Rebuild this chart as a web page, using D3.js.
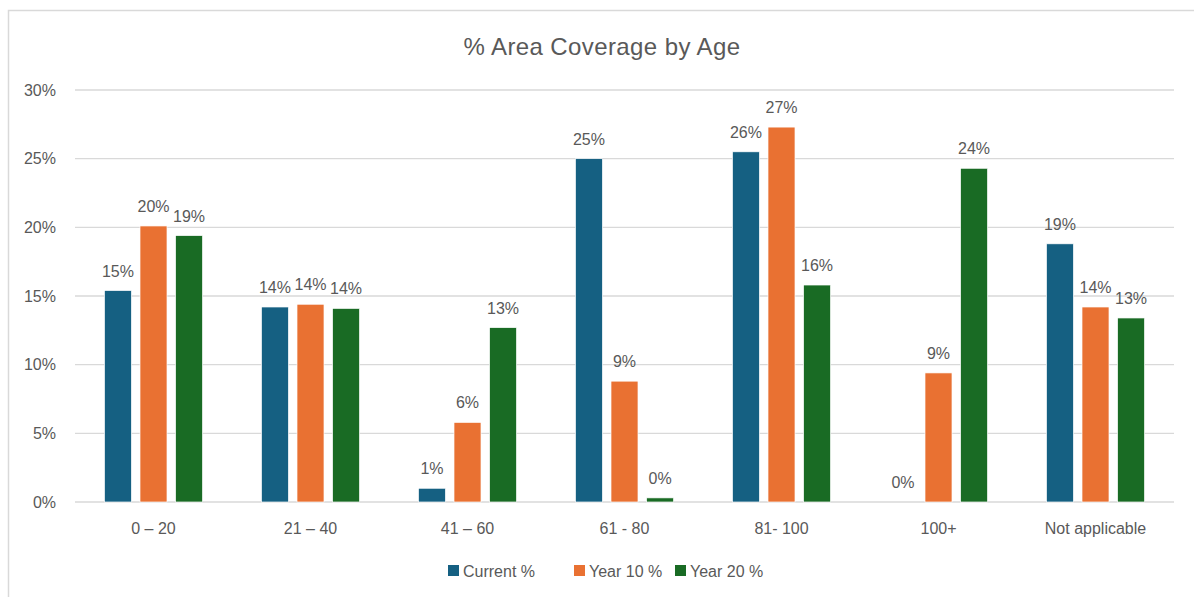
<!DOCTYPE html>
<html>
<head>
<meta charset="utf-8">
<script src="https://cdn.jsdelivr.net/npm/d3@7"></script>
<style>
  body { margin: 0; background: #fff; }
  text { font-family: "Liberation Sans", Arial, sans-serif; fill: #595959; }
</style>
</head>
<body>
<div id="chart"></div>
<script>
// chart data
var categories = ["0 \u2013 20", "21 \u2013 40", "41 \u2013 60", "61 - 80", "81- 100", "100+", "Not applicable"];
var seriesNames = ["Current %", "Year 10 %", "Year 20 %"];
var currentPct = [15.4, 14.2, 1.0, 25.0, 25.5, 0.0, 18.8];
var year10Pct = [20.1, 14.4, 5.8, 8.8, 27.3, 9.4, 14.2];
var year20Pct = [19.4, 14.1, 12.7, 0.3, 15.8, 24.3, 13.4];
var yTicks = [0, 5, 10, 15, 20, 25, 30];
var colors = ["#156082", "#E97132", "#196B24"];

var svgWidth = 1194;
var svgHeight = 597;

// plot area
var margin = { top: 90, right: 20, bottom: 95, left: 75 };
var chartWidth = 1174 - margin.left;
var chartHeight = 502 - margin.top;

var svg = d3.select("#chart")
    .append("svg")
    .attr("width", svgWidth)
    .attr("height", svgHeight);

// outer border of the chart box
svg.append("path")
    .attr("d", "M8.5,600 L8.5,10.5 L1194,10.5")
    .attr("fill", "none")
    .attr("stroke", "#d9d9d9")
    .attr("stroke-width", 1.5);

svg.append("text")
    .attr("x", 602)
    .attr("y", 55)
    .attr("text-anchor", "middle")
    .style("font-size", "24px")
    .style("letter-spacing", "0.4px")
    .text("% Area Coverage by Age");

var chartGroup = svg.append("g")
    .attr("transform", `translate(${margin.left}, ${margin.top})`);

var x0 = d3.scaleBand()
    .domain(categories)
    .range([0, chartWidth])
    .paddingInner(0.375)
    .paddingOuter(0.1875);

var x1 = d3.scaleBand()
    .domain(seriesNames)
    .range([0, x0.bandwidth()])
    .paddingInner(0.24);

var y = d3.scaleLinear()
    .domain([0, 30])
    .range([chartHeight, 0]);

// gridlines
chartGroup.append("g")
    .selectAll("line")
    .data(yTicks)
    .enter()
    .append("line")
    .attr("x1", 0)
    .attr("x2", chartWidth)
    .attr("y1", d => y(d))
    .attr("y2", d => y(d))
    .attr("stroke", "#d9d9d9")
    .attr("stroke-width", 1.3);

// y axis labels
var leftAxis = d3.axisLeft(y)
    .tickValues(yTicks)
    .tickFormat(d => d + "%")
    .tickSize(0)
    .tickPadding(19);

var yAxis = chartGroup.append("g").call(leftAxis);
yAxis.select(".domain").remove();
yAxis.selectAll("text")
    .style("font-size", "16px")
    .style("fill", "#595959")
    .style("font-family", "Liberation Sans, Arial, sans-serif");

// x axis labels
var bottomAxis = d3.axisBottom(x0).tickSize(0).tickPadding(21);
var xAxis = chartGroup.append("g")
    .attr("transform", `translate(0, ${chartHeight})`)
    .call(bottomAxis);
xAxis.select(".domain").remove();
xAxis.selectAll("text")
    .style("font-size", "16px")
    .style("fill", "#595959")
    .style("font-family", "Liberation Sans, Arial, sans-serif");

var rows = categories.map(function(c, i) {
    return {
        category: c,
        values: [currentPct[i], year10Pct[i], year20Pct[i]]
    };
});

var groups = chartGroup.selectAll(".group")
    .data(rows)
    .enter()
    .append("g")
    .attr("class", "group")
    .attr("transform", d => `translate(${x0(d.category)}, 0)`);

groups.selectAll("rect")
    .data(d => d.values.map((v, j) => ({ name: seriesNames[j], value: v, idx: j })))
    .enter()
    .append("rect")
    .attr("x", d => x1(d.name))
    .attr("y", d => y(d.value))
    .attr("width", x1.bandwidth())
    .attr("height", d => chartHeight - y(d.value))
    .attr("fill", d => colors[d.idx])
    .attr("stroke", "#fff")
    .attr("stroke-width", d => d.value > 0 ? 0.7 : 0);

// value labels
groups.selectAll(".lbl")
    .data(d => d.values.map((v, j) => ({ name: seriesNames[j], value: v })))
    .enter()
    .append("text")
    .attr("class", "lbl")
    .attr("x", d => x1(d.name) + x1.bandwidth() / 2)
    .attr("y", d => y(d.value) - 14)
    .attr("text-anchor", "middle")
    .style("font-size", "16px")
    .text(d => Math.round(d.value) + "%");

// legend
var legend = svg.append("g")
    .attr("transform", "translate(448, 571)");
var legendX = [0, 126, 227];
seriesNames.forEach(function(name, i) {
    var item = legend.append("g").attr("transform", `translate(${legendX[i]}, 0)`);
    item.append("rect")
        .attr("x", 0)
        .attr("y", -6)
        .attr("width", 11)
        .attr("height", 11)
        .attr("fill", colors[i]);
    item.append("text")
        .attr("x", 15)
        .attr("y", 5.5)
        .style("font-size", "16px")
        .text(name);
});
</script>
</body>
</html>
